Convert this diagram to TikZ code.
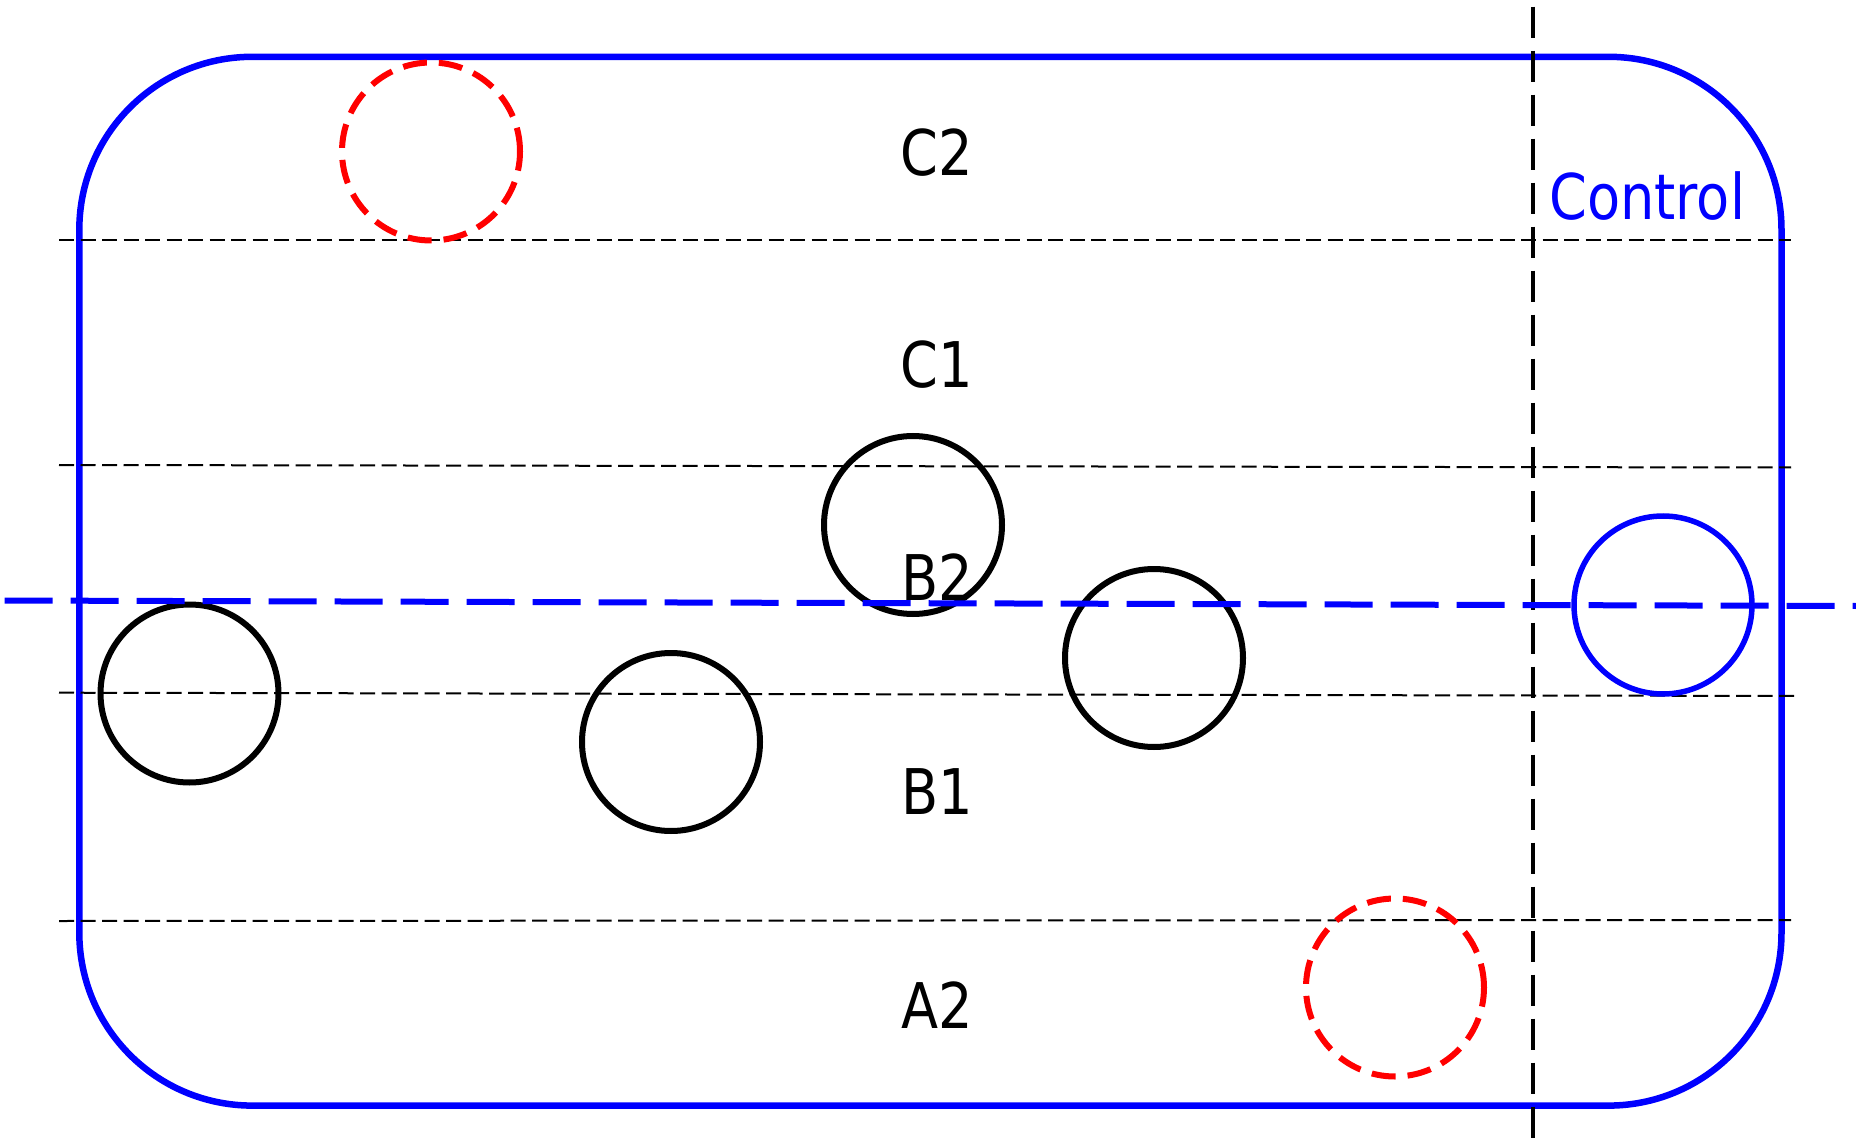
\documentclass[tikz,border=0pt]{standalone}
\usepackage{fontspec}
\setmainfont{DejaVu Sans}[FakeStretch=0.86]
\begin{document}
\begin{tikzpicture}[x=1pt,y=-1pt,
  ring/.style={circle, draw=black, line width=6pt, minimum size=178pt, inner sep=0pt},
  redring/.style={ring, draw=red, line width=6pt, dash pattern=on 24pt off 12pt},
  bluering/.style={ring, draw=blue, line width=5.5pt},
  gridline/.style={black, line width=2pt, dash pattern=on 15pt off 6.5pt},
  lbl/.style={font=\fontsize{63}{70}\selectfont, anchor=base, inner sep=0pt}]
\useasboundingbox (0,0) rectangle (1856,1139);
% outer rounded frame
\draw[blue, line width=6.5pt, rounded corners=173pt] (79.3,56.8) rectangle (1781.5,1105.6);
% thin horizontal dashed lines
\draw[gridline] (59,240.5) -- (1791,240.5);
\draw[gridline] (59,465) -- (1791,467.5);
\draw[gridline] (59,692.7) -- (1799,696);
\draw[gridline] (59,921) -- (1791,920);
% labels
\node[lbl] (c2) at (937,175.5) {C2};
\node[lbl] (c1) at (937,387.5) {C1};
\node[lbl] (b2) at (937,600) {B2};
\node[lbl] (b1) at (937,814) {B1};
\node[lbl] (a2) at (937,1028) {A2};
\node[lbl, anchor=base west, text=blue] (ctl) at (1549,220) {Control};
% circles
\node[redring] (r1) at (431,151.5) {};
\node[redring] (r2) at (1395,987.5) {};
\node[ring] (k1) at (189.5,693.5) {};
\node[ring] (k2) at (671,742) {};
\node[ring] (k3) at (913,525) {};
\node[ring] (k4) at (1154,658) {};
\node[bluering] (bl) at (1663,605) {};
% vertical black dashed line
\draw[black, line width=4.2pt, dash pattern=on 31.5pt off 12.5pt] (1533,6.7) -- (1533,1139);
% blue dashed line
\draw[blue, line width=6pt, dash pattern=on 48pt off 18pt] (4.7,600.5) -- (1856,606);
\end{tikzpicture}
\end{document}
